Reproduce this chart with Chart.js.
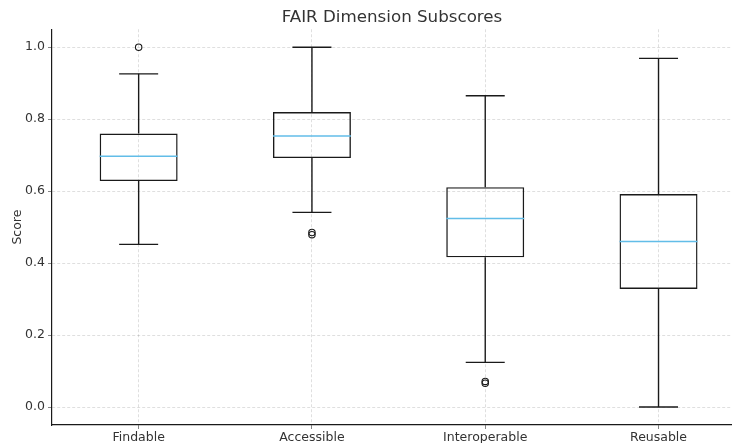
<!DOCTYPE html>
<html>
<head>
<meta charset="utf-8">
<script src="https://cdn.jsdelivr.net/npm/chart.js@4.4.1/dist/chart.umd.min.js"></script>
<style>
  html, body { margin: 0; padding: 0; background: #fff; overflow: hidden; }
  canvas { display: block; }
</style>
</head>
<body>
<canvas id="c" width="732" height="443"></canvas>
<script>
const categories = ['Findable', 'Accessible', 'Interoperable', 'Reusable'];
const whiskerLow = [0.452, 0.541, 0.124, 0.0];
const q1 = [0.628, 0.692, 0.416, 0.328];
const median = [0.697, 0.753, 0.524, 0.460];
const q3 = [0.760, 0.820, 0.611, 0.592];
const whiskerHigh = [0.926, 1.0, 0.865, 0.969];
const outliers = [[1.0], [0.485, 0.479], [0.071, 0.066], []];
const yTicks = [0.0, 0.2, 0.4, 0.6, 0.8, 1.0];

const FONT = "'DejaVu Sans', sans-serif";
const INK = '#1a1a1a';
const LW = 1.4;

const boxData = categories.map((c, i) => ({ x: i, y: [q1[i], q3[i]] }));
const medianData = categories.map((c, i) => ({ x: i, y: median[i] }));
const capData = [];
categories.forEach((c, i) => { capData.push({ x: i, y: whiskerLow[i] }); capData.push({ x: i, y: whiskerHigh[i] }); });
const whiskerData = [];
categories.forEach((c, i) => {
  whiskerData.push({ x: i, y: whiskerLow[i] }, { x: i, y: q1[i] }, { x: i, y: null });
  whiskerData.push({ x: i, y: q3[i] }, { x: i, y: whiskerHigh[i] }, { x: i, y: null });
});
const outlierData = [];
outliers.forEach((arr, i) => arr.forEach(v => outlierData.push({ x: i, y: v })));

new Chart(document.getElementById('c'), {
  type: 'bar',
  data: {
    datasets: [
      { type: 'scatter', data: medianData, pointStyle: 'line', pointRadius: 39, pointHoverRadius: 39,
        borderColor: '#62bde8', pointBorderColor: '#62bde8', pointBorderWidth: 1.5, order: 0 },
      { type: 'bar', data: boxData, backgroundColor: 'rgba(0,0,0,0)', borderColor: INK, borderWidth: LW,
        borderSkipped: false, barPercentage: 0.45, categoryPercentage: 1, grouped: false, order: 1 },
      { type: 'line', data: whiskerData, borderColor: INK, borderWidth: LW, pointRadius: 0, spanGaps: false,
        fill: false, order: 2 },
      { type: 'scatter', data: capData, pointStyle: 'line', pointRadius: 19.5, pointHoverRadius: 19.5,
        pointBorderColor: INK, pointBorderWidth: LW, order: 2 },
      { type: 'scatter', data: outlierData, pointStyle: 'circle', pointRadius: 3.2, pointHoverRadius: 3.2,
        pointBackgroundColor: 'rgba(0,0,0,0)', pointBorderColor: INK, pointBorderWidth: 1.1, order: 3 }
    ]
  },
  options: {
    responsive: false,
    animation: false,
    events: [],
    layout: { autoPadding: false, padding: { left: 0, right: 0, top: 0, bottom: 0 } },
    plugins: {
      legend: { display: false },
      tooltip: { enabled: false },
      title: {
        display: true, text: 'FAIR Dimension Subscores', color: '#333', fullSize: false,
        font: { family: FONT, size: 16.7, weight: 'normal' }, padding: { top: 8, bottom: 1.2 }
      }
    },
    scales: {
      x: {
        type: 'linear', min: -0.5, max: 3.424, offset: false,
        afterBuildTicks: s => { s.ticks = categories.map((c, i) => ({ value: i })); },
        afterFit: s => { s.height = 18; },
        ticks: { callback: v => categories[v], color: '#333', font: { family: FONT, size: 12.5 }, padding: 1, maxRotation: 0, autoSkip: false },
        grid: { offset: false, color: 'rgba(0,0,0,0.16)', lineWidth: 0.8, tickLength: 4, tickColor: '#666', tickWidth: 0.8 },
        border: { display: true, color: INK, width: 1.2, dash: [3, 2] }
      },
      y: {
        type: 'linear', min: -0.05, max: 1.05,
        afterBuildTicks: s => { s.ticks = yTicks.map(v => ({ value: v })); },
        afterFit: s => { s.width = 52; },
        ticks: { callback: v => Number(v).toFixed(1), color: '#333', font: { family: FONT, size: 12.5 }, padding: 3 },
        grid: { color: 'rgba(0,0,0,0.16)', lineWidth: 0.8, tickLength: 4, tickColor: '#666', tickWidth: 0.8 },
        border: { display: true, color: INK, width: 1.2, dash: [3, 2] },
        title: { display: true, text: 'Score', color: '#333', font: { family: FONT, size: 12.5 }, padding: { top: 10, bottom: 0 } }
      }
    }
  }
});
</script>
</body>
</html>
